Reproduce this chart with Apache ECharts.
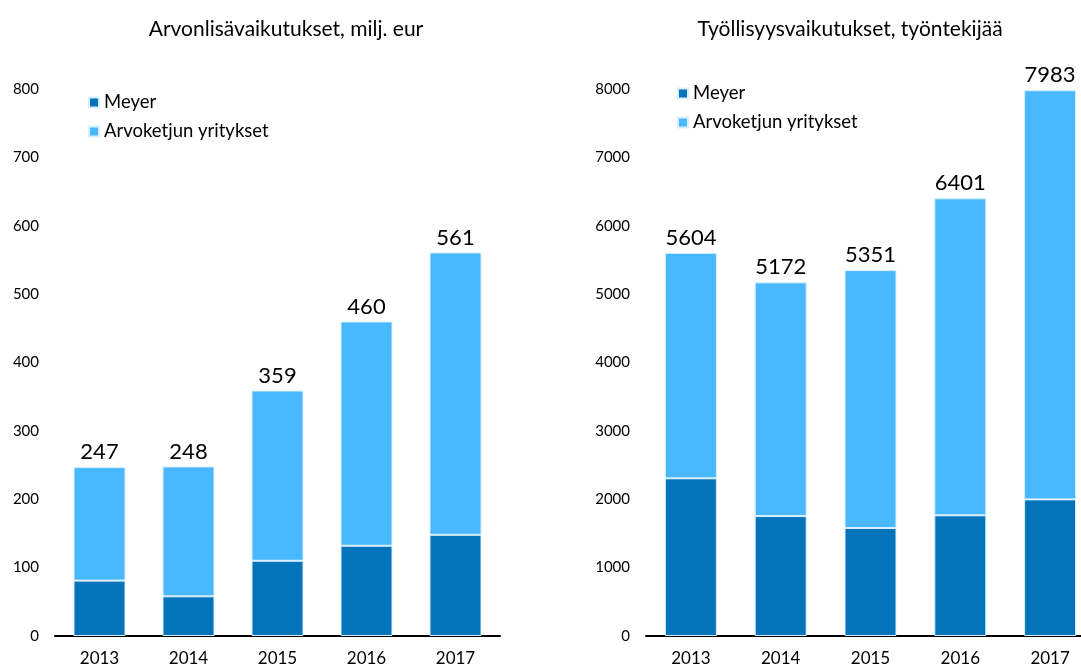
<!DOCTYPE html>
<html>
<head>
<meta charset="utf-8">
<script src="https://cdn.jsdelivr.net/npm/echarts@6/dist/echarts.min.js"></script>
<style>
  html, body { margin: 0; padding: 0; background: #fff; }
  #chart { width: 1081px; height: 670px; }
</style>
</head>
<body>
<div id="chart"></div>
<script>
// vuodet
const years = ['2013', '2014', '2015', '2016', '2017'];

// arvonlisävaikutukset, milj. eur
const vaMeyer = [81, 58, 110, 132, 148];
const vaTotal = [247, 248, 359, 460, 561];
const vaChain = vaTotal.map((t, i) => t - vaMeyer[i]);
const vaTicks = [0, 800, 100];

// työllisyysvaikutukset, työntekijää
const emMeyer = [2306, 1754, 1579, 1765, 1998];
const emTotal = [5604, 5172, 5351, 6401, 7983];
const emChain = emTotal.map((t, i) => t - emMeyer[i]);
const emTicks = [0, 8000, 1000];

const DARK = '#0473b9';
const LIGHT = '#4ab8ff';
const FONT = 'Lato, "Open Sans", sans-serif';

const chart = echarts.init(document.getElementById('chart'));

function barSeries(name, data, idx, color, totals) {
  const s = {
    name, type: 'bar', stack: 'st' + idx,
    xAxisIndex: idx, yAxisIndex: idx,
    data, barWidth: 52,
    itemStyle: { color, borderColor: '#d9efff', borderWidth: 1 },
  };
  if (totals) {
    s.label = {
      show: true, position: 'top', distance: 4,
      color: '#000', fontSize: 22, fontFamily: FONT,
      formatter: p => totals[p.dataIndex],
    };
  }
  return s;
}

function yAxis(idx, ticks) {
  return {
    type: 'value', gridIndex: idx,
    min: ticks[0], max: ticks[1], interval: ticks[2],
    axisLine: { show: false }, axisTick: { show: false },
    splitLine: { show: false },
    axisLabel: { color: '#000', fontSize: 15, fontFamily: FONT, margin: 16, formatter: v => String(v) },
  };
}

function xAxis(idx) {
  return {
    type: 'category', gridIndex: idx, data: years,
    axisLine: { lineStyle: { color: '#000', width: 2 } },
    axisTick: { show: false },
    axisLabel: { color: '#000', fontSize: 17, fontFamily: FONT, margin: 14 },
  };
}

const legendText = { fontSize: 18.5, color: '#000', fontFamily: FONT };
const titleText = { fontSize: 21, fontWeight: 'normal', color: '#000', fontFamily: FONT };

chart.setOption({
  animation: false,
  title: [
    { text: 'Arvonlisävaikutukset, milj. eur', left: 281, top: 14, textAlign: 'center', textStyle: titleText },
    { text: 'Työllisyysvaikutukset, työntekijää', left: 845, top: 14, textAlign: 'center', textStyle: titleText },
  ],
  legend: [
    { left: 83, top: 88, orient: 'vertical', itemGap: 10, icon: 'rect', itemWidth: 10, itemHeight: 10,
      data: ['Meyer', 'Arvoketjun yritykset'], textStyle: legendText },
    { left: 672, top: 79, orient: 'vertical', itemGap: 10, icon: 'rect', itemWidth: 10, itemHeight: 10,
      data: ['Meyer ', 'Arvoketjun yritykset '], textStyle: legendText },
  ],
  grid: [
    { left: 55, width: 445, top: 89, bottom: 34, outerBoundsMode: 'none' },
    { left: 646, width: 449, top: 89, bottom: 34, outerBoundsMode: 'none' },
  ],
  xAxis: [xAxis(0), xAxis(1)],
  yAxis: [yAxis(0, vaTicks), yAxis(1, emTicks)],
  series: [
    barSeries('Meyer', vaMeyer, 0, DARK),
    barSeries('Arvoketjun yritykset', vaChain, 0, LIGHT, vaTotal),
    barSeries('Meyer ', emMeyer, 1, DARK),
    barSeries('Arvoketjun yritykset ', emChain, 1, LIGHT, emTotal),
  ],
});
</script>
</body>
</html>
